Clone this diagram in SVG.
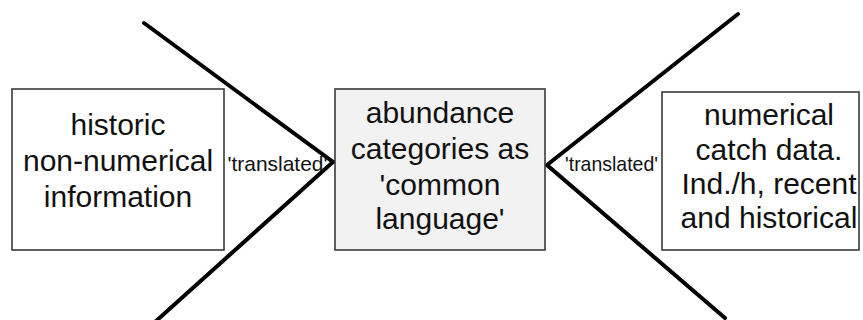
<svg xmlns="http://www.w3.org/2000/svg" width="863" height="320" viewBox="0 0 863 320">
<style>
.box{fill:#fff;stroke:#3a3a3a;stroke-width:1.6}
.mid{fill:#f2f2f2}
.t{font-family:"Liberation Sans",Arial,sans-serif;font-size:30px;fill:#111;text-anchor:middle}
.s{font-family:"Liberation Sans",Arial,sans-serif;font-size:21px;fill:#111;text-anchor:middle}
.c{fill:none;stroke:#000;stroke-width:4;stroke-linecap:round;stroke-linejoin:miter}
</style>
<rect width="863" height="320" fill="#fff"/>
<g id="connectors">
<polyline class="c" points="144,23 333,162 155,322"/>
<polyline class="c" points="738,14 547,165 725,318"/>
<text class="s" x="277.5" y="171" textLength="100" lengthAdjust="spacingAndGlyphs">'translated'</text>
<text class="s" x="611.5" y="171" textLength="93" lengthAdjust="spacingAndGlyphs">'translated'</text>
</g>
<g id="historic">
<rect class="box" x="12" y="89" width="212" height="161"/>
<text class="t" x="118" y="135">historic</text>
<text class="t" x="118" y="171">non-numerical</text>
<text class="t" x="118" y="207">information</text>
</g>
<g id="abundance">
<rect class="box mid" x="335" y="89" width="210" height="161"/>
<text class="t" x="440" y="123">abundance</text>
<text class="t" x="440" y="159">categories as</text>
<text class="t" x="440" y="195">'common</text>
<text class="t" x="440" y="229">language'</text>
</g>
<g id="numerical">
<rect class="box" x="662" y="92" width="197" height="158"/>
<text class="t" x="769" y="125">numerical</text>
<text class="t" x="769" y="160">catch data.</text>
<text class="t" x="769" y="194">Ind./h, recent</text>
<text class="t" x="769" y="228">and historical</text>
</g>
</svg>
